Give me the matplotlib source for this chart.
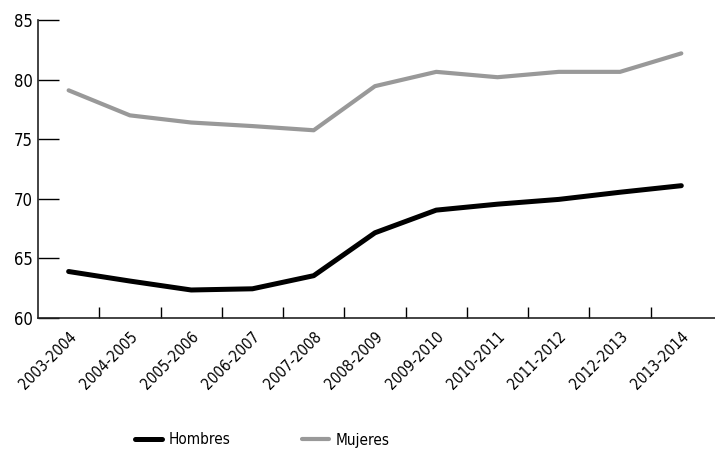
import matplotlib
matplotlib.use("Agg")
import matplotlib.pyplot as plt
import numpy as np

# data
periodos = ["2003-2004", "2004-2005", "2005-2006", "2006-2007", "2007-2008", "2008-2009",
            "2009-2010", "2010-2011", "2011-2012", "2012-2013", "2013-2014"]
hombres = [63.9, 63.1, 62.35, 62.45, 63.55, 67.15, 69.05, 69.55, 69.95, 70.55, 71.1]
mujeres = [79.1, 77.0, 76.4, 76.1, 75.75, 79.45, 80.65, 80.2, 80.65, 80.65, 82.2]

plt.rcParams['font.family'] = ['DejaVu Sans']
plt.rcParams['font.stretch'] = 'condensed'

fig = plt.figure(figsize=(7.15, 4.55), dpi=100)
ax = fig.add_axes([38/715, 1 - 318/455, 1 - 38/715, 298/455])

x = np.arange(len(periodos))
ax.plot(x, hombres, color="black", lw=3.6, label="Hombres", solid_capstyle="round")
ax.plot(x, mujeres, color="#999999", lw=3.0, label="Mujeres", solid_capstyle="round")

ax.set_ylim(60, 85)
ax.set_yticks([60, 65, 70, 75, 80, 85])
ax.set_xlim(-0.5, len(periodos) - 0.45)

# category labels in the middle, tick marks at the borders
ax.set_xticks(x)
ax.set_xticklabels(periodos, rotation=45, ha="right", rotation_mode="anchor")
ax.set_xticks(x[:-1] + 0.5, minor=True)
ax.tick_params(axis="x", which="major", length=0, pad=8, labelsize=11)
ax.tick_params(axis="x", which="minor", direction="in", length=8, width=1)
ax.tick_params(axis="y", direction="in", length=15, width=1, pad=4, labelsize=12)

for s in ["top", "right"]:
    ax.spines[s].set_visible(False)
for s in ["left", "bottom"]:
    ax.spines[s].set_linewidth(1.2)
    ax.spines[s].set_color("#222222")

fig.legend(loc="center", bbox_to_anchor=(262/715, 1 - 440/455), ncol=2, frameon=False,
           fontsize=11, handlelength=1.8, handletextpad=0.4, columnspacing=4.7)

fig.savefig("out.png", dpi=100)
